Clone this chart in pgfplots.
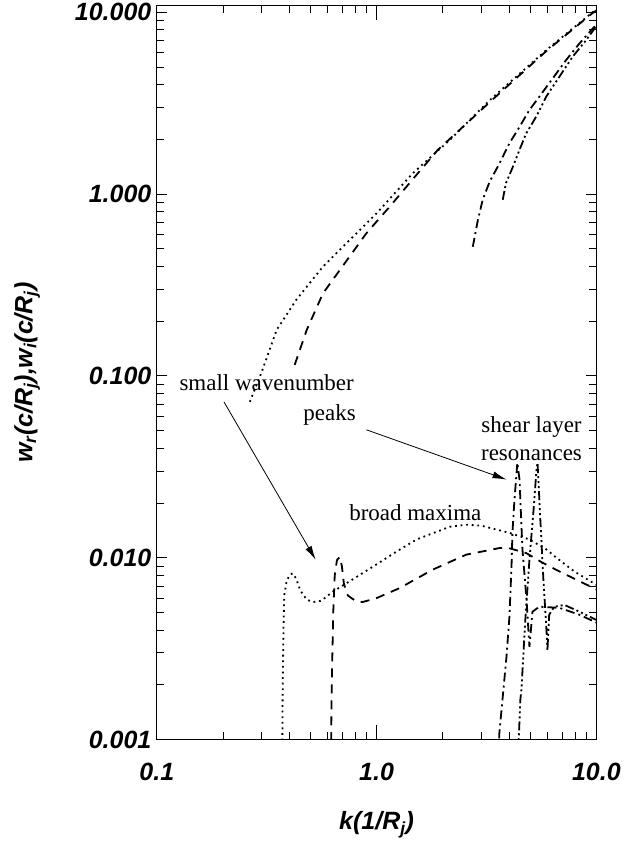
\documentclass[border=0pt]{standalone}
\usepackage{pgfplots}
\pgfplotsset{compat=1.18}
\usepackage{fontspec}
\setmainfont{Liberation Serif}
\newfontfamily\lab{Liberation Sans}
\usetikzlibrary{arrows.meta}

\begin{document}
\begin{tikzpicture}
\begin{axis}[
  name=ax,
  xmode=log, ymode=log,
  scale only axis,
  width=440pt, height=735pt,
  xmin=0.1, xmax=10, ymin=0.001, ymax=10.9,
  xtick={0.1,1,10}, xticklabels={0.1,1.0,10.0},
  ytick={0.001,0.01,0.1,1,10}, yticklabels={0.001,0.010,0.100,1.000,10.000},
  tick label style={font=\fontsize{25}{28}\lab\bfseries\itshape},
  label style={font=\fontsize{25}{28}\lab\bfseries\itshape},
  xticklabel style={yshift=-20pt},
  yticklabel style={xshift=-2pt},
  axis line style={line width=1pt},
  tick style={black, line width=0.8pt},
  xtick style={/pgfplots/major tick length=15pt, /pgfplots/minor tick length=8pt},
  ytick style={/pgfplots/major tick length=10pt, /pgfplots/minor tick length=7pt},
  xlabel={k(1/R\textsubscript{j})},
  ylabel={w\textsubscript{r}(c/R\textsubscript{j}),w\textsubscript{i}(c/R\textsubscript{j})},
  xlabel style={at={(axis description cs:0.5,-0.116)}, anchor=center},
  ylabel style={at={(axis description cs:-0.295,0.5)}, anchor=center},
  every axis plot/.append style={black, line width=1.8pt},
  dotst/.style={dash pattern=on 1.8pt off 3.8pt},
  dashst/.style={dash pattern=on 9pt off 7pt},
  ddst/.style={dash pattern=on 9pt off 4pt on 2pt off 4pt},
  dddst/.style={dash pattern=on 9pt off 3pt on 2pt off 3pt on 2pt off 3pt on 2pt off 3pt},
]
% real parts
\addplot[dotst] coordinates {
 (0.265,0.072) (0.30,0.105) (0.351,0.179) (0.431,0.262) (0.57,0.399)
 (0.754,0.558) (1.0,0.783) (1.46,1.3) (2.15,1.98) (3.27,3.28)
 (5.91,6.18) (9.62,10.0) (10,10.2)};
\addplot[dashst] coordinates {
 (0.424,0.115) (0.481,0.179) (0.57,0.284) (0.716,0.416) (0.898,0.608)
 (1.146,0.851) (1.49,1.24) (1.9,1.75) (2.47,2.34) (3.27,3.2)
 (5.91,6.1) (9.62,9.9) (10,10.2)};
\addplot[ddst] coordinates {
 (2.74,0.513) (2.89,0.72) (3.04,0.93) (3.27,1.17) (3.62,1.47) (4.02,1.90)
 (4.47,2.34) (4.96,2.9) (5.5,3.43) (6.33,4.32) (7.28,5.45) (8.37,6.72)
 (9.62,8.13) (10,8.5)};
\addplot[dddst] coordinates {
 (3.75,0.93) (3.88,1.15) (4.17,1.41) (4.47,1.75) (4.79,2.15) (5.32,2.66)
 (5.91,3.43) (6.79,4.42) (7.8,5.69) (8.97,7.0) (10,8.4)};
% imaginary parts
\addplot[dotst] coordinates {
 (0.372,0.0008) (0.374,0.002) (0.377,0.004) (0.38,0.0062) (0.39,0.0075)
 (0.405,0.0081) (0.415,0.0082) (0.43,0.0077) (0.45,0.0066) (0.48,0.0059)
 (0.512,0.0057) (0.56,0.0058) (0.631,0.0065) (0.778,0.0076) (1.0,0.0092)
 (1.23,0.0108) (1.52,0.0126) (2.15,0.0148) (2.56,0.0152) (3.0,0.015)
 (4.02,0.0137) (4.96,0.0126) (5.93,0.0111) (6.58,0.0100) (7.94,0.0084)
 (10,0.0071)};
\addplot[dashst] coordinates {
 (0.62,0.0008) (0.625,0.002) (0.635,0.005) (0.645,0.008) (0.66,0.0097)
 (0.68,0.0101) (0.695,0.009) (0.71,0.0072) (0.74,0.0062) (0.8,0.0058)
 (0.86,0.0057) (1.0,0.006) (1.27,0.0068) (1.8,0.0086) (2.56,0.0104)
 (3.62,0.0113) (4.0,0.0113) (4.8,0.0106) (5.68,0.0094) (6.8,0.0084)
 (8.63,0.0073) (10,0.0067)};
\addplot[ddst] coordinates {
 (3.58,0.0008) (3.62,0.00109) (3.74,0.00166) (3.9,0.00286) (4.02,0.0047)
 (4.11,0.0089) (4.15,0.0137) (4.24,0.0209) (4.37,0.0333) (4.47,0.0269)
 (4.61,0.0111) (4.81,0.00588) (4.96,0.00324) (5.12,0.00505) (5.5,0.00538)
 (6.8,0.0053) (8.37,0.00486) (10,0.0044)};
\addplot[dddst] coordinates {
 (4.40,0.0008) (4.51,0.00166) (4.56,0.00188) (4.75,0.00456) (4.96,0.00975)
 (5.18,0.0184) (5.34,0.0305) (5.4,0.0333) (5.56,0.0162) (5.74,0.0076)
 (5.93,0.004) (5.99,0.0031) (6.1,0.00486) (6.44,0.00538) (7.16,0.0055)
 (8.37,0.00505) (10,0.00455)};
% annotations
\begin{scope}[font=\fontsize{23}{26}\selectfont]
\node at (axis cs:0.316,0.0916) {small wavenumber};
\node at (axis cs:0.611,0.061) {peaks};
\node at (axis cs:5.07,0.0525) {shear layer};
\node at (axis cs:5.07,0.0368) {resonances};
\node at (axis cs:1.5,0.0177) {broad maxima};
\end{scope}
\draw[line width=0.8pt, -{Latex[length=14pt,width=7pt]}] (axis cs:0.202,0.072) -- (axis cs:0.528,0.00975);
\draw[line width=0.8pt, -{Latex[length=14pt,width=7pt]}] (axis cs:0.9,0.0505) -- (axis cs:3.9,0.0269);
\end{axis}
\path ([shift={(-157pt,-101pt)}]ax.south west) rectangle ([shift={(29pt,5pt)}]ax.north east);
\end{tikzpicture}
\end{document}
